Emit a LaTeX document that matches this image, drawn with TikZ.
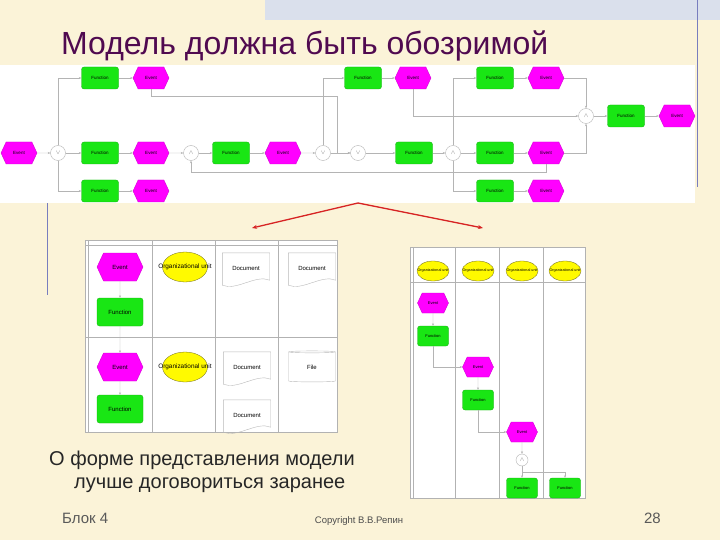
\documentclass[tikz,border=0pt]{standalone}
\usepackage{fontspec}
\setmainfont{Liberation Sans}
\usetikzlibrary{arrows.meta, shapes.symbols, shapes.geometric}
\definecolor{slidebg}{RGB}{251,243,216}
\definecolor{bandbg}{RGB}{218,224,236}
\definecolor{titlecol}{RGB}{80,10,80}
\definecolor{fungreen}{RGB}{25,230,20}
\definecolor{evmagenta}{RGB}{255,0,255}
\definecolor{orgyellow}{RGB}{255,250,0}
\definecolor{edgegray}{RGB}{180,180,180}
\definecolor{arrowred}{RGB}{215,35,35}
\definecolor{sideblue}{RGB}{120,125,190}
\tikzset{
    func/.style={rectangle, rounded corners=2.5pt, fill=fungreen, draw=fungreen!75!black, line width=0.3pt, minimum width=37pt, minimum height=22pt, inner sep=0pt, font=\fontsize{4.5}{5}\selectfont}, % функция
    event/.style={signal, signal to=east and west, signal pointer angle=130, fill=evmagenta, draw=evmagenta!80!black, line width=0.3pt, minimum width=36pt, minimum height=22pt, inner sep=0pt, font=\fontsize{4.5}{5}\selectfont}, % событие
    conn/.style={circle, draw=edgegray, fill=white, line width=0.4pt, minimum size=15pt, inner sep=0pt, font=\fontsize{6}{6}\selectfont, text=gray}, % оператор
    big/.style={minimum width=46pt, minimum height=28pt, font=\fontsize{6}{7}\selectfont}, % крупные фигуры
    small/.style={minimum width=31pt, minimum height=20pt, font=\fontsize{4}{4}\selectfont}, % мелкие фигуры
    org/.style={ellipse, fill=orgyellow, draw=olive!70!black, line width=0.3pt, inner sep=0pt}, % оргединица
    orgunit/.style={org, minimum width=45pt, minimum height=30pt, label={[font=\fontsize{6.4}{7}\selectfont, inner sep=0pt]center:#1}},
    orgsmall/.style={org, minimum width=32pt, minimum height=20pt, label={[font=\fontsize{3.7}{4}\selectfont, inner sep=0pt]center:#1}},
    docbox/.style={rectangle, minimum width=47pt, minimum height=30pt, inner sep=0pt, font=\fontsize{6}{7}\selectfont}, % документ
    docline/.style={draw=gray!55, line width=0.4pt},
    flow/.style={draw=edgegray, line width=0.4pt, -{Stealth[length=2.5pt, width=2pt]}}, % связь
    lane/.style={draw=gray!60, line width=0.4pt},
    redarrow/.style={draw=arrowred, line width=1.3pt, -{Stealth[length=5pt, width=4pt]}}
}
\begin{document}
\begin{tikzpicture}[x=1pt, y=-1pt]
\useasboundingbox (0,0) rectangle (720,540);
\fill[slidebg] (0,0) rectangle (720,540);
\fill[bandbg] (265,0) rectangle (720,20);
\draw[sideblue, line width=0.8pt] (697,0) -- (697,187);
\draw[sideblue, line width=0.8pt] (47,200) -- (47,295);

\node[anchor=base west, inner sep=0pt, font=\fontsize{32}{38}\selectfont, text=titlecol] (title) at (61,55) {Модель должна быть обозримой};

% общая модель
\fill[white] (0,65) rectangle (695,203);
\node[event] (st) at (19,153) {Event};
\node[conn] (x1) at (58,153) {$\vee$};
\node[func] (f1) at (100,78) {Function};
\node[event] (e1) at (151,78) {Event};
\node[func] (f2) at (100,153) {Function};
\node[event] (e2) at (151,153) {Event};
\node[func] (f3) at (100,191) {Function};
\node[event] (e3) at (151,191) {Event};
\node[conn] (x2) at (191,153) {$\wedge$};
\node[func] (f4) at (231,153) {Function};
\node[event] (e4) at (283,153) {Event};
\node[conn] (x3) at (323,153) {$\vee$};
\node[conn] (x4) at (358,153) {$\vee$};
\node[func] (f5) at (363,78) {Function};
\node[event] (e5) at (413,78) {Event};
\node[func] (f6) at (414,153) {Function};
\node[conn] (x5) at (453,153) {$\wedge$};
\node[func] (f7) at (495,78) {Function};
\node[event] (e7) at (546,78) {Event};
\node[func] (f8) at (495,153) {Function};
\node[event] (e8) at (546,153) {Event};
\node[func] (f9) at (495,191) {Function};
\node[event] (e9) at (546,191) {Event};
\node[conn] (x6) at (586,116) {$\wedge$};
\node[func] (f10) at (626,116) {Function};
\node[event] (e10) at (677,116) {Event};
\coordinate (j1) at (337,96);

\draw[flow] (st) -- (x1);
\draw[flow] (x1) |- (f1);
\draw[flow] (x1) -- (f2);
\draw[flow] (x1) |- (f3);
\foreach \a/\b in {f1/e1, f2/e2, f3/e3, e2/x2, x2/f4, f4/e4, e4/x3, x3/x4, x4/f6, f5/e5, f6/x5, x5/f8, f7/e7, f8/e8, f9/e9, x6/f10, f10/e10}
    \draw[flow] (\a) -- (\b);
\draw[flow] (e1) |- (j1) |- (x4);
\draw[flow] (x3) |- (f5);
\draw[flow] (x5) |- (f7);
\draw[flow] (x5) |- (f9);
\draw[flow] (e5) |- (x6);
\draw[flow] (e7) -| (x6);
\draw[flow] (e8) -| (x6);
\draw[flow] (e8.south) -- ++(0,8) -| (x2);

% стрелки к фрагментам
\coordinate (rs) at (358,203);
\coordinate (rl) at (252,228);
\coordinate (rr) at (483,228);
\draw[redarrow] (rs) -- (rl);
\draw[redarrow] (rs) -- (rr);

% фрагмент по столбцам
\fill[white] (85,240) rectangle (337,432);
\draw[lane] (85,240) rectangle (337,432);
\draw[lane] (88,240) -- (88,432);
\draw[lane] (85,245) -- (337,245);
\foreach \x in {152,215,278}
    \draw[lane] (\x,240) -- (\x,432);
\draw[lane] (85,337) -- (337,337);

\node[event, big] (evA) at (120,267) {Event};
\node[orgunit=Organizational unit] (orgA) at (185,267) {};
\node[docbox] (docA) at (246,268) {Document};
\node[docbox] (docB) at (312,268) {Document};
\node[func, big] (fnA) at (120,312) {Function};
\node[event, big] (evB) at (120,367) {Event};
\node[orgunit=Organizational unit] (orgB) at (185,367) {};
\node[docbox] (docC) at (247,367) {Document};
\node[cylinder, shape border rotate=90, aspect=0.2, draw=gray!55, line width=0.4pt, minimum width=47pt, minimum height=31pt, inner sep=0pt, font=\fontsize{6}{7}\selectfont] (fileA) at (312,367) {File};
\node[func, big] (fnB) at (120,409) {Function};
\node[docbox] (docD) at (247,415) {Document};
\foreach \d in {docA, docB, docC, docD}
    \draw[docline] (\d.north west) -- (\d.north east) -- ([yshift=3pt]\d.south east) .. controls +(-14,-6) and +(14,6) .. ([yshift=-2pt]\d.south west) -- cycle;
\draw[flow] (evA) -- (fnA);
\draw[flow] (fnA) -- (evB);
\draw[flow] (evB) -- (fnB);

% фрагмент по дорожкам
\fill[white] (410,247) rectangle (585,498);
\draw[lane] (410,247) rectangle (585,498);
\draw[lane] (413,247) -- (413,498);
\foreach \x in {455,499,543}
    \draw[lane] (\x,247) -- (\x,498);
\draw[lane] (410,282) -- (585,282);
\foreach \x [count=\i] in {433,478,522,565}
    \node[orgsmall=Organizational unit] (org\i) at (\x,271) {};
\node[event, small] (evR1) at (433,303) {Event};
\node[func, small] (fnR1) at (433,336) {Function};
\node[event, small] (evR2) at (478,367) {Event};
\node[func, small] (fnR2) at (478,400) {Function};
\node[event, small] (evR3) at (522,432) {Event};
\node[conn, minimum size=12pt] (xR) at (522,460) {$\wedge$};
\node[func, small] (fnR3) at (522,488) {Function};
\node[func, small] (fnR4) at (565,488) {Function};
\draw[flow] (evR1) -- (fnR1);
\draw[flow] (fnR1) |- (evR2);
\draw[flow] (evR2) -- (fnR2);
\draw[flow] (fnR2) |- (evR3);
\draw[flow] (evR3) -- (xR);
\draw[flow] (xR) -- (fnR3);
\draw[flow] (xR.south) -- ++(0,6) -| (fnR4);

% текст слайда
\node[anchor=base west, inner sep=0pt, align=left, font=\fontsize{20}{23}\selectfont, text=black!85] (note) at (49,488) {О форме представления модели\\\hspace*{25pt}лучше договориться заранее};
\node[anchor=base west, inner sep=0pt, font=\fontsize{15}{18}\selectfont, text=black!65] (block) at (62,523) {Блок 4};
\node[anchor=base, inner sep=0pt, font=\fontsize{9.5}{11}\selectfont, text=black!70] (copy) at (359,523) {Copyright В.В.Репин};
\node[anchor=base east, inner sep=0pt, font=\fontsize{15}{18}\selectfont, text=black!65] (page) at (661,523) {28};
\end{tikzpicture}
\end{document}
